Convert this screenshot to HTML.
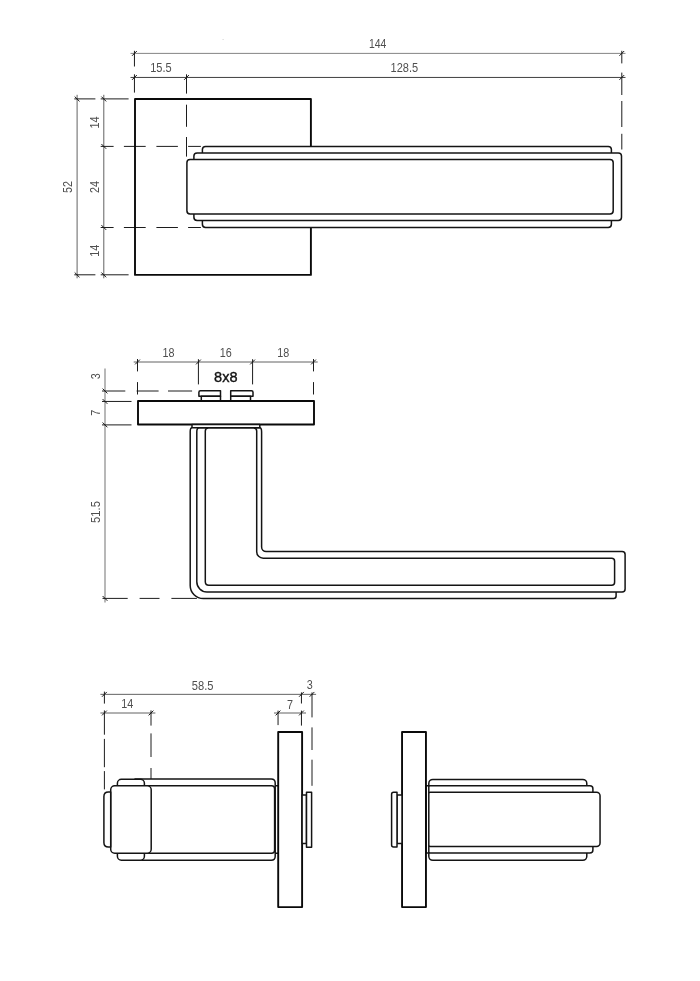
<!DOCTYPE html>
<html><head><meta charset="utf-8"><title>Door handle drawing</title>
<style>
html,body{margin:0;padding:0;background:#fff}
svg{display:block;will-change:transform;transform:translateZ(0)}
.o{fill:#fff;stroke:#141414;stroke-width:1.5;stroke-linejoin:round}
.p{fill:#fff;stroke:#0a0a0a;stroke-width:1.9;stroke-linejoin:round}
.d{fill:none;stroke:#505050;stroke-width:0.9}
.e{fill:none;stroke:#1c1c1c;stroke-width:1}
.k{fill:none;stroke:#1a1a1a;stroke-width:1}
.t{font-family:"Liberation Sans",sans-serif;font-size:12px;fill:#4f4f4f;text-anchor:middle}
.b{font-family:"Liberation Sans",sans-serif;font-size:14px;fill:#111;text-anchor:middle;stroke:#111;stroke-width:0.35}
</style></head>
<body>
<svg width="700" height="981" viewBox="0 0 700 981">
<rect x="0" y="0" width="700" height="981" fill="#fff"/>
<rect x="222.6" y="39" width="1" height="1" fill="#d0d0d0"/>
<!-- top view -->
<path class="d" style="stroke:#777" d="M130.50 53.40L625.50 53.40"/>
<path class="d" style="stroke:#2a2a2a" d="M130.50 77.45L625.50 77.45"/>
<path class="k" d="M132.05 55.80L136.85 51.00"/>
<path class="k" d="M619.40 55.80L624.20 51.00"/>
<path class="k" d="M132.05 79.85L136.85 75.05"/>
<path class="k" d="M184.10 79.85L188.90 75.05"/>
<path class="k" d="M619.40 79.85L624.20 75.05"/>
<path class="e" d="M134.45 50.80V66.50M134.45 74.30V92.60"/>
<path class="e" d="M186.50 74.30V93.60M186.50 104.70V126.80M186.50 137.00V156.60"/>
<path class="e" d="M621.80 50.80V63.40M621.80 72.60V95.00M621.80 101.00V127.00M621.80 133.80V149.50"/>
<text class="t" transform="translate(377.70 43.80) scale(0.87 1)" y="4.30">144</text>
<text class="t" transform="translate(160.90 67.60) scale(0.92 1)" y="4.30">15.5</text>
<text class="t" transform="translate(404.40 67.80) scale(0.92 1)" y="4.30">128.5</text>
<path class="d" d="M77.10 94.80L77.10 278.30"/>
<path class="d" d="M103.80 94.80L103.80 278.30"/>
<path class="k" d="M101.40 96.60L106.20 101.40"/>
<path class="k" d="M101.40 144.00L106.20 148.80"/>
<path class="k" d="M101.40 225.10L106.20 229.90"/>
<path class="k" d="M101.40 272.50L106.20 277.30"/>
<path class="k" d="M74.70 96.60L79.50 101.40"/>
<path class="k" d="M74.70 272.50L79.50 277.30"/>
<path class="e" d="M74.30 98.90H95.40M100.70 98.90H128.60"/>
<path class="e" d="M74.30 274.80H95.40M100.70 274.80H128.60"/>
<path class="e" d="M100.70 146.40H113.60M123.90 146.40H145.70M156.40 146.40H177.90M188.10 146.40H200.90"/>
<path class="e" d="M100.70 227.50H113.60M123.90 227.50H145.70M156.40 227.50H177.90M188.10 227.50H200.90"/>
<text class="t" transform="translate(68.00 187.00) rotate(-90) scale(0.9 1)" y="4.30">52</text>
<text class="t" transform="translate(94.80 187.00) rotate(-90) scale(0.9 1)" y="4.30">24</text>
<text class="t" transform="translate(94.80 122.50) rotate(-90) scale(0.9 1)" y="4.30">14</text>
<text class="t" transform="translate(94.80 250.80) rotate(-90) scale(0.9 1)" y="4.30">14</text>
<rect class="p" style="fill:none" x="135" y="99" width="175.9" height="175.9"/>
<rect class="o" x="202.40" y="146.40" width="409.00" height="81.00" rx="3.2" ry="3.2"/>
<rect class="o" x="193.90" y="152.90" width="427.60" height="67.50" rx="3.2" ry="3.2"/>
<rect class="o" x="186.90" y="159.50" width="426.30" height="54.50" rx="3.2" ry="3.2"/>
<!-- front view -->
<path class="d" d="M133.70 362.00L317.70 362.00"/>
<path class="k" d="M135.10 364.40L139.90 359.60"/>
<path class="k" d="M196.02 364.40L200.82 359.60"/>
<path class="k" d="M250.18 364.40L254.98 359.60"/>
<path class="k" d="M311.10 364.40L315.90 359.60"/>
<path class="e" d="M137.50 359.00V371.40M137.50 382.10V394.50"/>
<path class="e" d="M313.50 359.00V371.40M313.50 382.10V394.50"/>
<path class="e" d="M198.42 359.20V384.40"/>
<path class="e" d="M252.58 359.20V384.40"/>
<text class="t" transform="translate(168.40 353.10) scale(0.9 1)" y="4.30">18</text>
<text class="t" transform="translate(225.80 353.10) scale(0.9 1)" y="4.30">16</text>
<text class="t" transform="translate(283.20 353.10) scale(0.9 1)" y="4.30">18</text>
<text class="b" transform="translate(225.80 377.00) scale(1.04 1)" y="5.01">8x8</text>
<path class="d" style="stroke:#6a6a6a;stroke-width:0.95" d="M105.00 368.50L105.00 602.50"/>
<path class="k" d="M102.60 388.60L107.40 393.40"/>
<path class="k" d="M102.60 399.05L107.40 403.85"/>
<path class="k" d="M102.60 422.50L107.40 427.30"/>
<path class="k" d="M102.60 596.00L107.40 600.80"/>
<path class="e" d="M102.00 391.00H125.30M136.60 391.00H158.60M168.00 391.00H192.10"/>
<path class="e" d="M102.00 401.45H131.50"/>
<path class="e" d="M102.00 424.90H131.50"/>
<path class="e" d="M102.50 598.40H127.70M139.60 598.40H159.50M171.40 598.40H196.90"/>
<text class="t" transform="translate(95.40 376.20) rotate(-90) scale(0.9 1)" y="4.30">3</text>
<text class="t" transform="translate(95.40 412.80) rotate(-90) scale(0.9 1)" y="4.30">7</text>
<text class="t" transform="translate(95.80 512.00) rotate(-90) scale(0.94 1)" y="4.30">51.5</text>
<path class="o" d="M198.9 396.2V392.2Q198.9 390.7 200.4 390.7H220.5V396.2Z"/>
<path class="o" d="M201.3 396.2H220.5V401H201.3Z"/>
<path class="o" d="M230.7 396.2V390.7H251.5Q253 390.7 253 392.2V396.2Z"/>
<path class="o" d="M230.7 396.2H250.5V401H230.7Z"/>
<rect class="p" x="138" y="401" width="176" height="23.55"/>
<path class="o" style="fill:none" d="M192 427.7A1.8 4 0 0 0 190.2 431.7V585.4A13.2 13.2 0 0 0 203.4 598.6H613.6Q616.1 598.6 616.1 596.1V592"/>
<path class="o" d="M199.1 427.7A2.3 4.3 0 0 0 196.8 432V581.7A10.2 10.2 0 0 0 207 591.9H622.1Q625.1 591.9 625.1 588.9V554.5Q625.1 551.5 622.1 551.5H266.1A4.5 4.5 0 0 1 261.6 547V432A1.8 4.3 0 0 0 259.8 427.7Z"/>
<rect class="o" x="192" y="424.5" width="67.8" height="3.2"/>
<path class="o" d="M208.5 427.9H253.5Q256.7 427.9 256.7 431.1V551.7A6.5 6.5 0 0 0 263.2 558.2H611.6Q614.6 558.2 614.6 561.2V582.2Q614.6 585.2 611.6 585.2H208.8Q205.3 585.2 205.3 581.7V431.1Q205.3 427.9 208.5 427.9Z"/>
<!-- side left -->
<path class="d" d="M100.40 694.35L316.10 694.35"/>
<path class="k" d="M102.00 696.75L106.80 691.95"/>
<path class="k" d="M299.05 696.75L303.85 691.95"/>
<path class="k" d="M309.60 696.75L314.40 691.95"/>
<path class="d" d="M100.40 713.00L155.40 713.00"/>
<path class="k" d="M102.00 715.40L106.80 710.60"/>
<path class="k" d="M148.60 715.40L153.40 710.60"/>
<path class="d" d="M274.00 713.00L306.00 713.00"/>
<path class="k" d="M275.60 715.40L280.40 710.60"/>
<path class="k" d="M299.05 715.40L303.85 710.60"/>
<path class="e" d="M104.40 691.60V703.60M104.40 710.40V734.70M104.40 738.90V767.20M104.40 771.10V789.40"/>
<path class="e" d="M151.00 710.40V725.60M151.00 733.40V757.00M151.00 768.00V782.70"/>
<path class="e" d="M278.05 710.60V725.10"/>
<path class="e" d="M301.45 692.40V703.50M301.45 710.60V725.60"/>
<path class="e" d="M312.00 692.40V717.40M312.00 727.40V750.00M312.00 759.70V785.80"/>
<text class="t" transform="translate(202.70 685.40) scale(0.93 1)" y="4.30">58.5</text>
<text class="t" transform="translate(309.80 685.00) scale(0.9 1)" y="4.30">3</text>
<text class="t" transform="translate(127.30 704.00) scale(0.9 1)" y="4.30">14</text>
<text class="t" transform="translate(290.00 704.50) scale(0.9 1)" y="4.30">7</text>
<path class="o" d="M135 779.1H271.2Q275.2 779.1 275.2 783.1V856.2Q275.2 860.2 271.2 860.2H135Z"/>
<rect class="o" x="117.40" y="779.30" width="27.00" height="80.90" rx="4" ry="4"/>
<path class="o" d="M140 785.8H271.6Q274.6 785.8 274.6 788.8V850.3Q274.6 853.3 271.6 853.3H140Z"/>
<path class="o" d="M275.2 785.8H278M275.2 853.3H278"/>
<rect class="o" x="110.70" y="785.80" width="40.50" height="67.40" rx="4" ry="4"/>
<path class="o" d="M110.7 791.9H108.4Q103.9 791.9 103.9 796.4V842.5Q103.9 847 108.4 847H110.7Z"/>
<rect class="p" x="278.2" y="732" width="23.9" height="175.1"/>
<rect class="o" x="302.1" y="795" width="4.4" height="48.5"/>
<rect class="o" x="306.5" y="792.2" width="5.1" height="55"/>
<!-- side right -->
<rect class="o" x="428.80" y="779.40" width="158.00" height="80.90" rx="4" ry="4"/>
<rect class="o" x="427.00" y="785.80" width="165.90" height="67.30" rx="3" ry="3"/>
<rect class="o" x="427.00" y="792.20" width="173.05" height="54.25" rx="3.5" ry="3.5"/>
<rect class="o" x="426" y="785.8" width="2.8" height="67.3"/>
<rect class="p" x="402.05" y="732" width="23.9" height="175.1"/>
<rect class="o" x="397" y="795" width="5" height="48.6"/>
<path class="o" d="M397 792.2H393.6Q391.6 792.2 391.6 794.2V845Q391.6 847 393.6 847H397Z"/>
</svg>
</body></html>
